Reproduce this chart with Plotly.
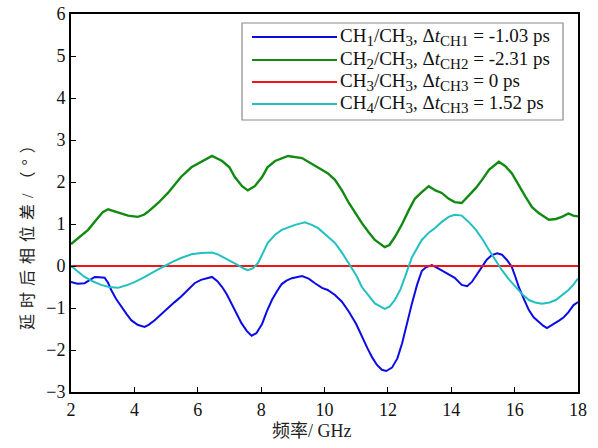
import plotly.graph_objects as go

# ---------------- data ----------------
ch1_freq = [2.0, 2.2, 2.43, 2.6, 2.75, 2.9, 3.06, 3.17, 3.27, 3.42, 3.58, 3.75, 3.9, 4.1, 4.32, 4.45,
            4.64, 4.85, 5.06, 5.27, 5.47, 5.7, 5.9, 6.1, 6.3, 6.45, 6.62, 6.77, 6.92, 7.06, 7.22, 7.38,
            7.55, 7.7, 7.85, 8.03, 8.18, 8.34, 8.5, 8.65, 8.8, 8.97, 9.29, 9.5, 9.7, 9.92, 10.1, 10.33,
            10.55, 10.77, 11.0, 11.18, 11.35, 11.5, 11.65, 11.81, 11.95, 12.13, 12.3, 12.45, 12.6, 12.76,
            12.92, 13.07, 13.2, 13.39, 13.6, 13.8, 13.95, 14.11, 14.33, 14.5, 14.65, 14.8, 14.97, 15.12,
            15.28, 15.45, 15.6, 15.75, 15.91, 16.02, 16.13, 16.3, 16.45, 16.6, 16.76, 16.9, 17.02, 17.2,
            17.4, 17.55, 17.7, 17.86, 17.95, 18.0]
ch1_phase = [-0.38, -0.42, -0.41, -0.32, -0.26, -0.27, -0.28, -0.4, -0.57, -0.78, -0.97, -1.14, -1.29, -1.4, -1.45, -1.4,
             -1.29, -1.14, -1.0, -0.86, -0.73, -0.56, -0.41, -0.33, -0.29, -0.26, -0.36, -0.5, -0.68, -0.89, -1.12, -1.36,
             -1.55, -1.66, -1.6, -1.38, -1.08, -0.81, -0.6, -0.43, -0.35, -0.29, -0.24, -0.3, -0.41, -0.52, -0.57, -0.69,
             -0.85, -1.09, -1.38, -1.69, -1.95, -2.17, -2.35, -2.47, -2.5, -2.42, -2.2, -1.84, -1.35, -0.89,
             -0.45, -0.12, -0.03, 0.02, -0.06, -0.14, -0.21, -0.28, -0.45, -0.48, -0.38, -0.2, -0.02, 0.15,
             0.26, 0.3, 0.27, 0.15, -0.02, -0.25, -0.5, -0.8, -1.05, -1.22, -1.33, -1.42, -1.48, -1.4,
             -1.3, -1.22, -1.1, -0.93, -0.88, -0.86]

ch2_freq = [2.0, 2.25, 2.54, 2.8, 3.0, 3.17, 3.4, 3.58, 3.8, 4.11, 4.3, 4.43, 4.75, 5.06, 5.47, 5.8, 6.1,
            6.45, 6.77, 7.0, 7.17, 7.4, 7.58, 7.8, 8.03, 8.2, 8.44, 8.85, 9.29, 9.7, 10.1, 10.33, 10.55,
            10.77, 11.0, 11.18, 11.4, 11.59, 11.9, 12.05, 12.22, 12.45, 12.66, 12.85, 13.07, 13.29, 13.5,
            13.7, 13.92, 14.11, 14.33, 14.55, 14.78, 15.0, 15.19, 15.5, 15.7, 15.91, 16.1, 16.35, 16.55,
            16.76, 17.08, 17.3, 17.49, 17.7, 17.85, 18.0]
ch2_phase = [0.52, 0.68, 0.86, 1.1, 1.28, 1.35, 1.3, 1.26, 1.2, 1.17, 1.22, 1.29, 1.5, 1.74, 2.12, 2.35, 2.48,
             2.62, 2.5, 2.35, 2.12, 1.9, 1.8, 1.9, 2.12, 2.35, 2.5, 2.62, 2.57, 2.38, 2.21, 2.05, 1.8,
             1.5, 1.22, 1.02, 0.8, 0.62, 0.45, 0.5, 0.69, 1.0, 1.33, 1.6, 1.76, 1.9, 1.8,
             1.74, 1.6, 1.52, 1.5, 1.68, 1.86, 2.08, 2.29, 2.48, 2.38, 2.21, 1.95, 1.64, 1.4,
             1.26, 1.1, 1.12, 1.17, 1.25, 1.2, 1.18]

ch3_freq = [2.0, 18.0]
ch3_phase = [0.0, 0.0]

ch4_freq = [2.0, 2.2, 2.43, 2.7, 2.95, 3.2, 3.48, 3.75, 4.02, 4.3, 4.52, 4.75, 4.96, 5.2, 5.47, 5.8, 6.1,
            6.45, 6.65, 6.86, 7.05, 7.27, 7.45, 7.58, 7.75, 7.9, 8.05, 8.21, 8.45, 8.65, 9.07, 9.38, 9.6,
            9.8, 10.1, 10.33, 10.55, 10.77, 11.0, 11.18, 11.4, 11.59, 11.9, 12.05, 12.22, 12.4, 12.54,
            12.76, 13.07, 13.3, 13.48, 13.7, 13.92, 14.11, 14.33, 14.55, 14.78, 15.0, 15.19, 15.4, 15.6,
            15.8, 16.03, 16.25, 16.45, 16.65, 16.86, 17.1, 17.3, 17.5, 17.7, 17.85, 18.0]
ch4_phase = [0.0, -0.12, -0.26, -0.37, -0.45, -0.5, -0.52, -0.46, -0.38, -0.27, -0.17, -0.08, 0.0, 0.1, 0.19, 0.28, 0.31,
             0.32, 0.27, 0.19, 0.1, 0.02, -0.06, -0.1, -0.05, 0.07, 0.3, 0.55, 0.75, 0.86, 0.98, 1.04, 0.98,
             0.9, 0.7, 0.55, 0.32, 0.07, -0.22, -0.5, -0.72, -0.89, -1.02, -0.97, -0.81, -0.55, -0.26,
             0.21, 0.62, 0.8, 0.9, 1.05, 1.17, 1.22, 1.2, 1.05, 0.86, 0.62, 0.38, 0.12, -0.1,
             -0.3, -0.5, -0.68, -0.81, -0.87, -0.9, -0.87, -0.81, -0.7, -0.57, -0.45, -0.3]

# legend labels: (channel, delay subscript, delay value)
label_parts = [("1", "CH1", "-1.03"), ("2", "CH2", "-2.31"), ("3", "CH3", "0"), ("4", "CH3", "1.52")]
x_ticks = [2, 4, 6, 8, 10, 12, 14, 16, 18]
y_ticks = [-3, -2, -1, 0, 1, 2, 3, 4, 5, 6]
x_title = "频率/ GHz"
y_title = "延时后相位差/（°）"

SUB = '<sub><span style="font-size:15px">{}</span></sub>'
series_labels = [
    "CH" + SUB.format(ch) + "/CH" + SUB.format("3") + ", Δ<i>t</i>" + SUB.format(ds) + " = " + dv + " ps"
    for ch, ds, dv in label_parts
]

# ---------------- style ----------------
colors = ["#0b0be6", "#128a12", "#f01616", "#22c0c0"]
widths = [2, 2.4, 2, 2]
SERIF = "Liberation Serif, Times New Roman, Noto Sans CJK SC, serif"

fig = go.Figure()
all_series = [(ch1_freq, ch1_phase), (ch2_freq, ch2_phase), (ch3_freq, ch3_phase), (ch4_freq, ch4_phase)]
for (fx, fy), c, w, lab in zip(all_series, colors, widths, series_labels):
    fig.add_trace(go.Scatter(x=fx, y=fy, mode="lines", line=dict(color=c, width=w),
                             name=lab, showlegend=False, hoverinfo="skip"))

W, H = 598, 448
# plot-area edges in window pixels
L, R, T, B = 71, 578, 14, 392
pw, ph = R - L, B - T
def px(p): return (p - L) / pw
def py(q): return (B - q) / ph

shapes = [dict(type="rect", xref="paper", yref="paper",
               x0=px(242), x1=px(563), y0=py(120), y1=py(23),
               line=dict(color="#8a8a8a", width=1.2), fillcolor="white", layer="above")]
annotations = []
row_y = [37, 60, 82, 104]
for ry, c, lab in zip(row_y, colors, series_labels):
    shapes.append(dict(type="line", xref="paper", yref="paper",
                       x0=px(252), x1=px(337), y0=py(ry), y1=py(ry),
                       line=dict(color=c, width=2), layer="above"))
    annotations.append(dict(xref="paper", yref="paper", x=px(338), y=py(ry),
                            xanchor="left", yanchor="middle", showarrow=False,
                            text=lab, font=dict(family=SERIF, size=19, color="#111")))

# axis titles
annotations.append(dict(xref="paper", yref="paper", x=px(312), y=py(431),
                        xanchor="center", yanchor="middle", showarrow=False,
                        text=x_title, font=dict(family=SERIF, size=18, color="#222")))
annotations.append(dict(xref="paper", yref="paper", x=px(27), y=py(231),
                        xanchor="center", yanchor="middle", showarrow=False, textangle=-90,
                        text='<span style="letter-spacing:6px">' + y_title + '</span>',
                        font=dict(family=SERIF, size=16, color="#222")))

fig.update_layout(
    width=W, height=H,
    margin=dict(l=L, r=W - R, t=T, b=H - B, autoexpand=False),
    paper_bgcolor="white", plot_bgcolor="white",
    shapes=shapes, annotations=annotations,
    font=dict(family=SERIF, size=18, color="#111"),
    hovermode=False,
)
fig.update_xaxes(range=[2, 18], tickvals=x_ticks, ticks="inside", ticklen=5, tickwidth=1.2,
                 tickcolor="black", showline=True, linecolor="black", linewidth=2, mirror=True,
                 showgrid=False, zeroline=False, ticklabeloverflow="allow", automargin=False,
                 tickfont=dict(family=SERIF, size=18))
fig.update_yaxes(range=[-3, 6], tickvals=y_ticks, ticks="inside", ticklen=5, tickwidth=1.2,
                 tickcolor="black", showline=True, linecolor="black", linewidth=2, mirror=True,
                 showgrid=False, zeroline=False, ticklabeloverflow="allow", automargin=False,
                 tickfont=dict(family=SERIF, size=18))

# remove the default 8px page margin so the figure fills the window exactly
fig.write_html("out.html", config={"displayModeBar": False},
               post_script="document.body.style.margin='0';document.body.style.overflow='hidden';")
